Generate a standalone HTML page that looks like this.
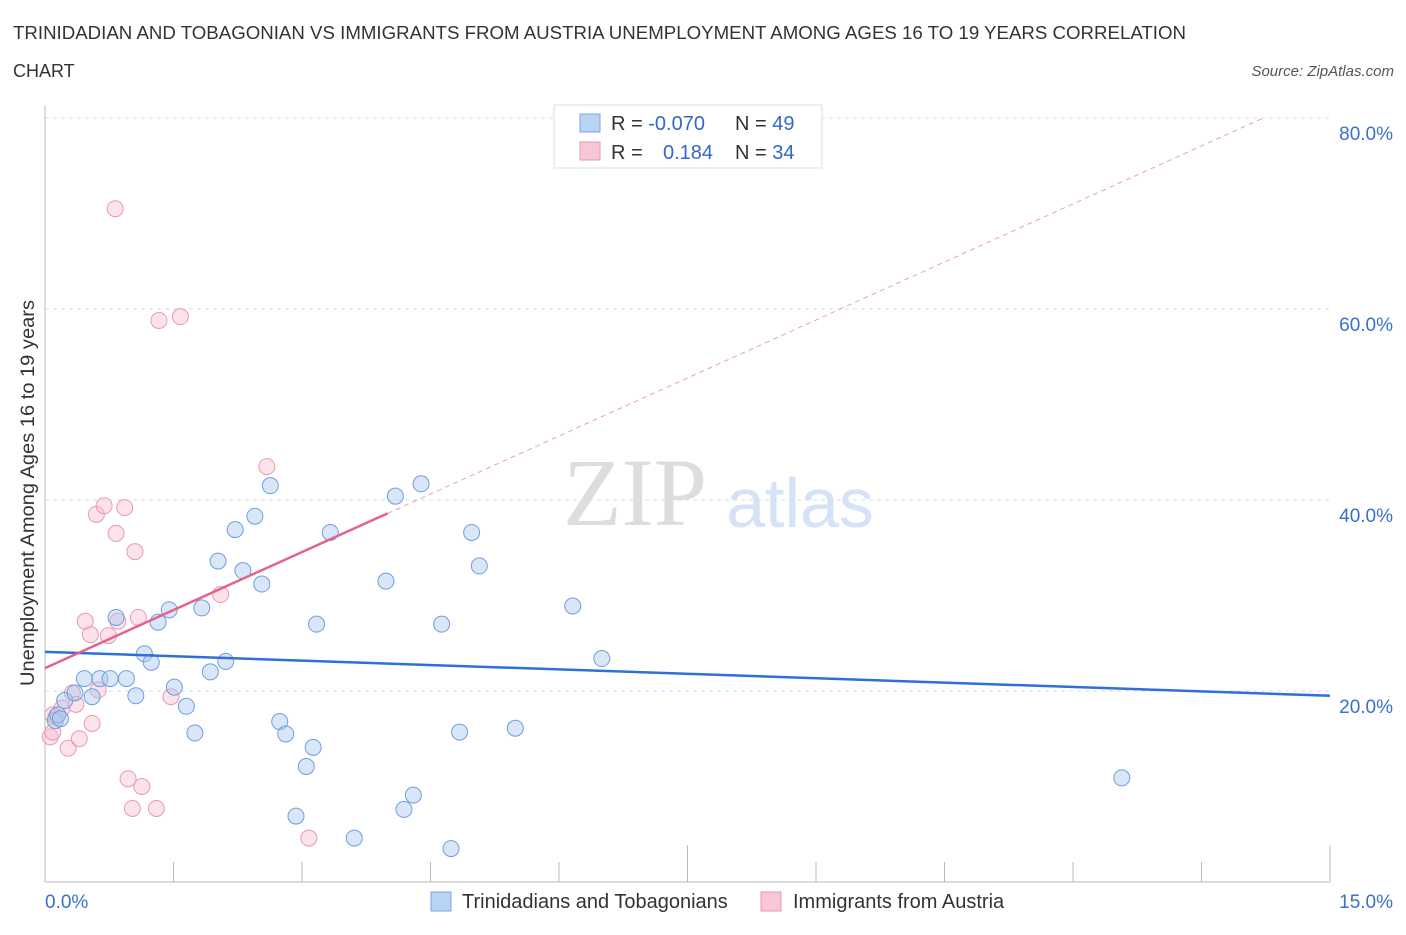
<!DOCTYPE html>
<html><head><meta charset="utf-8"><style>
body{margin:0;background:#fff;font-family:"Liberation Sans",sans-serif;}
</style></head><body>
<svg id="c" width="1406" height="930" xmlns="http://www.w3.org/2000/svg" style="font-family:'Liberation Sans',sans-serif">
<text x="13" y="39" font-size="18" fill="#333" textLength="1173" lengthAdjust="spacingAndGlyphs">TRINIDADIAN AND TOBAGONIAN VS IMMIGRANTS FROM AUSTRIA UNEMPLOYMENT AMONG AGES 16 TO 19 YEARS CORRELATION</text>
<text x="13" y="77" font-size="18" fill="#333">CHART</text>
<text x="1394" y="76" font-size="15" fill="#555" text-anchor="end" font-style="italic">Source: ZipAtlas.com</text>
<text x="635" y="525" font-size="96" fill="#ddd" font-family="Liberation Serif,serif" text-anchor="middle">ZIP</text>
<text x="800" y="527" font-size="70" fill="#d4e3f5" text-anchor="middle">atlas</text>
<text transform="translate(34,493) rotate(-90)" font-size="19" fill="#333" text-anchor="middle" textLength="386" lengthAdjust="spacingAndGlyphs">Unemployment Among Ages 16 to 19 years</text>
<g id="grid"></g><g id="marks"></g>
<g>
<rect x="554" y="105" width="268" height="63" fill="#fff" stroke="#ddd"/>
<rect x="580" y="114" width="20" height="18" fill="#b9d3f5" stroke="#7aa6e0"/>
<rect x="580" y="142" width="20" height="18" fill="#f8c6d4" stroke="#e89ab2"/>
<text x="611" y="130" font-size="20" fill="#333">R = <tspan fill="#3366cc">-0.070</tspan></text>
<text x="735" y="130" font-size="20" fill="#333">N = <tspan fill="#3366cc">49</tspan></text>
<text x="611" y="159" font-size="20" fill="#333">R = <tspan fill="#3366cc" x="663">0.184</tspan></text>
<text x="735" y="159" font-size="20" fill="#333">N = <tspan fill="#3366cc">34</tspan></text>
</g>
<g>
<rect x="431" y="892" width="20" height="19" fill="#b9d3f5" stroke="#7aa6e0"/>
<text x="462" y="908" font-size="20" fill="#333">Trinidadians and Tobagonians</text>
<rect x="761" y="892" width="20" height="19" fill="#f8c6d4" stroke="#e89ab2"/>
<text x="793" y="908" font-size="20" fill="#333">Immigrants from Austria</text>
</g>
</svg>
<script>
const xTicks=["0.0%","15.0%"];
const yTickVals=[20,40,60,80];
const blueX=[0.12,0.15,0.18,0.23,0.35,0.46,0.55,0.64,0.76,0.83,0.95,1.06,1.16,1.24,1.32,1.45,1.51,1.65,1.75,1.83,1.93,2.02,2.11,2.22,2.31,2.45,2.53,2.63,2.74,2.81,2.93,3.05,3.13,3.17,3.33,3.61,3.98,4.09,4.19,4.30,4.39,4.63,4.74,4.84,4.98,5.07,5.49,6.16,6.50,12.57];
const blueY=[16.9,17.5,17.1,19.0,19.8,21.3,19.4,21.3,21.3,27.7,21.3,19.5,23.9,23.0,27.2,28.5,20.4,18.4,15.6,28.7,22.0,33.6,23.1,36.9,32.6,38.3,31.2,41.5,16.8,15.5,6.9,12.1,14.1,27.0,36.6,4.6,31.5,40.4,7.6,9.1,41.7,27.0,3.5,15.7,36.6,33.1,16.1,28.9,23.4,10.9];
const pinkX=[0.06,0.09,0.13,0.20,0.27,0.32,0.36,0.40,0.47,0.53,0.55,0.60,0.62,0.69,0.74,0.82,0.83,0.85,0.93,0.97,1.02,1.05,1.09,1.13,1.30,1.33,1.47,1.58,2.05,2.59,3.08,0.09];
const pinkY=[15.2,17.5,17.3,18.2,14.0,19.8,18.6,15.0,27.3,25.9,16.6,38.5,20.1,39.4,25.8,70.5,36.5,27.3,39.2,10.8,7.7,34.6,27.7,10.0,7.7,58.8,19.4,59.2,30.1,43.5,4.6,15.7];
const blueTrend=[24.1,19.5];
const pinkTrend=[22.4,4.05];
const X=v=>45+v*1285/15, Y=v=>882-v*9.55;
const NS="http://www.w3.org/2000/svg";
const g=document.getElementById('grid'), m=document.getElementById('marks');
function el(t,a,p){const e=document.createElementNS(NS,t);for(const k in a)e.setAttribute(k,a[k]);p.appendChild(e);return e;}
yTickVals.forEach(v=>{
 const l=el('line',{x1:45,x2:1330,y1:Y(v),y2:Y(v),stroke:'#ddd','stroke-dasharray':'4,4'},g);
 
 
 const t=el('text',{x:1393,y:Y(v)+22,'font-size':19,fill:'#3a6fcf','text-anchor':'end'},g);
 t.textContent=v.toFixed(1)+'%';
 
 
});
el('line',{x1:45,x2:45,y1:105,y2:882,stroke:'#bbb'},g);
el('line',{x1:45,x2:1330,y1:882,y2:882,stroke:'#bbb'},g);
for(let i=0;i<=10;i++){const x=45+i*128.5;el('line',{x1:x,x2:x,y1:(i==5||i==10)?845:862,y2:882,stroke:'#bbb'},g);}
const tx0=el('text',{x:45,y:908,'font-size':19,fill:'#3a6fcf'},g);tx0.textContent=xTicks[0];


const tx1=el('text',{x:1393,y:908,'font-size':19,fill:'#3a6fcf','text-anchor':'end'},g);tx1.textContent=xTicks[1];


pinkX.forEach((x,i)=>{const c=el('circle',{cx:X(x),cy:Y(pinkY[i]),r:8,fill:'rgba(248,190,208,0.45)',stroke:'#e89ab2','stroke-width':1},m);
 
 });
blueX.forEach((x,i)=>{const c=el('circle',{cx:X(x),cy:Y(blueY[i]),r:8,fill:'rgba(170,200,240,0.45)',stroke:'#6f9edc','stroke-width':1},m);
 
 });
const bl=el('line',{x1:X(0),y1:Y(blueTrend[0]),x2:X(15),y2:Y(blueTrend[1]),stroke:'#2f6fd6','stroke-width':2.5},m);


const xe=(80-pinkTrend[0])/pinkTrend[1];
const pd=el('line',{x1:X(4),y1:Y(pinkTrend[0]+4*pinkTrend[1]),x2:X(xe),y2:Y(80),stroke:'#e8a0b8','stroke-width':1,'stroke-dasharray':'5,4'},m);


const pl=el('line',{x1:X(0),y1:Y(pinkTrend[0]),x2:X(4),y2:Y(pinkTrend[0]+4*pinkTrend[1]),stroke:'#e4628e','stroke-width':2.5},m);


</script>
</body></html>
